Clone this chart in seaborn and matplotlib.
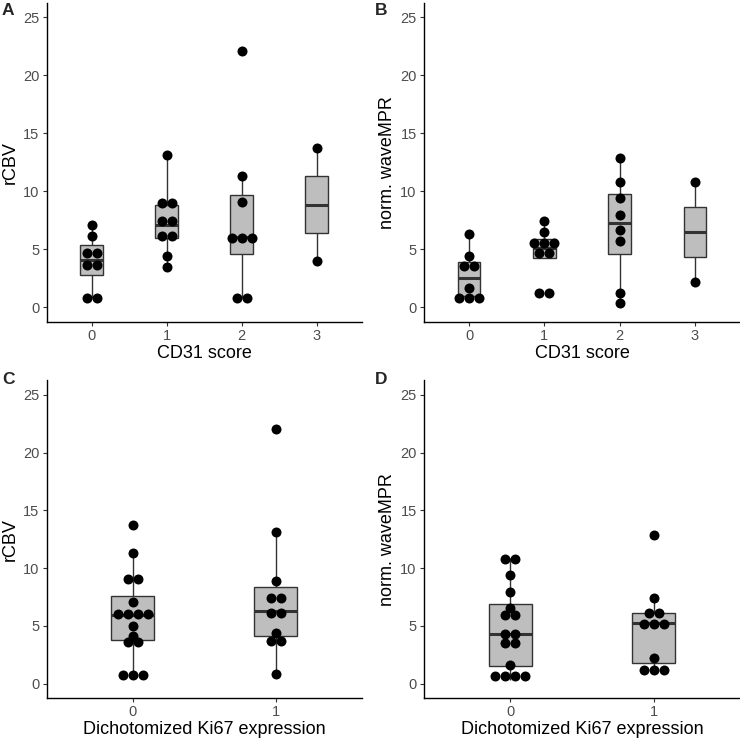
import matplotlib
matplotlib.use("Agg")
import matplotlib.pyplot as plt
import numpy as np
import pandas as pd
import seaborn as sns

# rCBV by CD31 score
rcbv_cd31_0 = [0.75, 0.8, 3.47, 3.73, 4.35, 5.05, 6.14, 7.06]
rcbv_cd31_1 = [3.5, 4.38, 5.97, 6.25, 7.06, 7.8, 8.85, 9.1, 13.11]
rcbv_cd31_2 = [0.75, 0.8, 5.9, 6.0, 6.1, 9.08, 11.33, 22.1]
rcbv_cd31_3 = [3.95, 13.75]

# norm. waveMPR by CD31 score
mpr_cd31_0 = [0.6, 0.8, 1.0, 1.67, 3.41, 3.69, 4.41, 6.34]
mpr_cd31_1 = [1.2, 1.28, 4.27, 5.05, 5.12, 5.5, 5.9, 6.51, 7.44]
mpr_cd31_2 = [0.4, 1.24, 5.68, 6.63, 7.93, 9.4, 10.8, 12.9]
mpr_cd31_3 = [2.16, 10.75]

# rCBV by dichotomized Ki67
rcbv_ki67_0 = [0.7, 0.75, 0.8, 3.3, 3.9, 4.15, 4.99, 5.9, 5.95, 6.0, 6.1,
               7.07, 9.0, 9.08, 11.29, 13.71]
rcbv_ki67_1 = [0.87, 3.5, 3.9, 4.42, 5.92, 6.26, 7.08, 7.82, 8.86, 13.13, 22.08]

# norm. waveMPR by dichotomized Ki67
mpr_ki67_0 = [0.3, 0.6, 0.9, 1.05, 1.65, 3.2, 3.78, 4.05, 4.6, 5.7, 6.2,
              6.58, 7.94, 9.38, 10.7, 10.85]
mpr_ki67_1 = [1.0, 1.2, 1.42, 2.22, 4.9, 5.28, 5.38, 5.85, 6.39, 7.39, 12.9]

cd31_levels = ["0", "1", "2", "3"]
ki67_levels = ["0", "1"]
y_ticks = [0, 5, 10, 15, 20, 25]

BINWIDTH = 0.8
DOTSIZE = 1.08
DPI = 100
FIG_PX = 740


def dot_bins(values, binwidth):
    # dot-density binning: a bin starts at a value and spans binwidth,
    # centre is the midpoint of the smallest and largest value in it
    vals = np.sort(np.asarray(values, dtype=float))
    bins, current, end = [], [], -np.inf
    for v in vals:
        if v >= end:
            if current:
                bins.append(current)
            current = [v]
            end = v + binwidth
        else:
            current.append(v)
    bins.append(current)
    return [((b[0] + b[-1]) / 2, len(b)) for b in bins]


def draw_panel(fig, rect_px, groups, levels, xlabel, ylabel, letter, letter_px):
    left, top, right, bottom = rect_px
    ax = fig.add_axes([left / FIG_PX, 1 - bottom / FIG_PX,
                       (right - left) / FIG_PX, (bottom - top) / FIG_PX])
    df = pd.concat([pd.DataFrame({"group": lev, "value": vals})
                    for lev, vals in zip(levels, groups)], ignore_index=True)

    sns.boxplot(data=df, x="group", y="value", order=levels, ax=ax,
                width=0.3, color="#BEBEBE", saturation=1, linecolor="#333333",
                linewidth=1.0, showfliers=False, showcaps=False,
                medianprops=dict(linewidth=2.2, color="#333333"), zorder=2)

    ax.set_xlim(-0.6, len(levels) - 1 + 0.6)
    ax.set_ylim(-1.25, 26.25)

    # dots stacked sideways, one dot diameter apart
    ax_w = (right - left)
    ax_h = (bottom - top)
    px_per_y = ax_h / 27.5
    px_per_x = ax_w / (len(levels) - 1 + 1.2)
    dot_px = BINWIDTH * DOTSIZE * px_per_y
    dx = dot_px / px_per_x
    xs, ys = [], []
    for i, vals in enumerate(groups):
        for centre, count in dot_bins(vals, BINWIDTH):
            for j in range(count):
                xs.append(i + (j - (count - 1) / 2) * dx)
                ys.append(centre)
    dot_pt = dot_px * 72 / DPI
    sns.scatterplot(x=xs, y=ys, ax=ax, color="black", s=dot_pt ** 2,
                    linewidth=0, zorder=3, legend=False)

    ax.set_xticks(range(len(levels)))
    ax.set_xticklabels(levels)
    ax.set_yticks(y_ticks)
    ax.set_xlabel(xlabel, fontsize=13, color="black", labelpad=1.5)
    ax.set_ylabel(ylabel, fontsize=13, color="black", labelpad=3)
    ax.tick_params(length=3.8 * 72 / DPI, width=0.8, color="#333333",
                   labelcolor="#4D4D4D", labelsize=10.5, pad=2.5)
    for side in ("left", "bottom"):
        ax.spines[side].set_linewidth(1.0)
        ax.spines[side].set_color("black")
    sns.despine(ax=ax)
    ax.grid(False)

    fig.text(letter_px[0] / FIG_PX, 1 - letter_px[1] / FIG_PX, letter,
             fontsize=12.5, fontweight="bold", ha="left", va="top")
    return ax


sns.set_style("ticks")
plt.rcParams["font.family"] = ["Liberation Sans", "DejaVu Sans"]

fig = plt.figure(figsize=(FIG_PX / DPI, FIG_PX / DPI), dpi=DPI)

draw_panel(fig, (46.7, 2.7, 361.7, 321.7),
           [rcbv_cd31_0, rcbv_cd31_1, rcbv_cd31_2, rcbv_cd31_3], cd31_levels,
           "CD31 score", "rCBV", "A", (2, 3))
draw_panel(fig, (424, 2.7, 740, 321.7),
           [mpr_cd31_0, mpr_cd31_1, mpr_cd31_2, mpr_cd31_3], cd31_levels,
           "CD31 score", "norm. waveMPR", "B", (375, 3))
draw_panel(fig, (46.7, 380.4, 361.7, 698),
           [rcbv_ki67_0, rcbv_ki67_1], ki67_levels,
           "Dichotomized Ki67 expression", "rCBV", "C", (2, 372))
draw_panel(fig, (424, 380.4, 740, 698),
           [mpr_ki67_0, mpr_ki67_1], ki67_levels,
           "Dichotomized Ki67 expression", "norm. waveMPR", "D", (375, 372))

fig.savefig("out.png", dpi=DPI)
